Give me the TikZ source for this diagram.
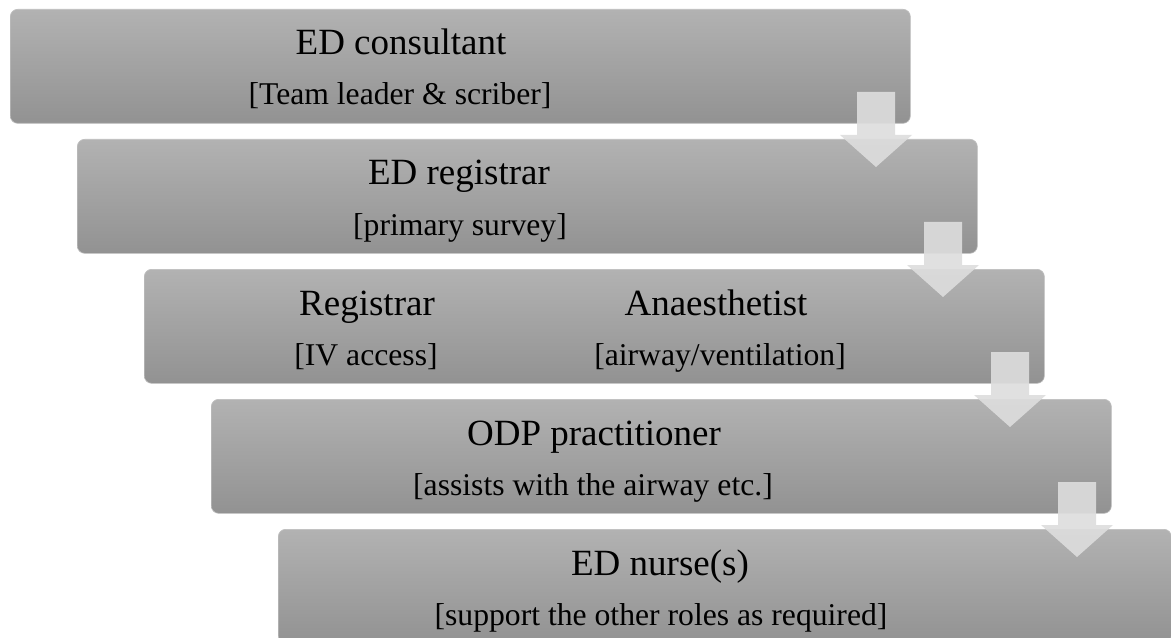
\documentclass[tikz,border=0pt]{standalone}
\usepackage{fontspec}
\setmainfont{Liberation Serif}
\definecolor{boxtop}{RGB}{178,178,178}
\definecolor{boxbot}{RGB}{146,146,146}
\definecolor{boxedge}{RGB}{190,190,190}
\definecolor{arrowgray}{RGB}{221,221,221}
\begin{document}
\begin{tikzpicture}[x=0.75pt,y=-0.75pt,
  stage/.style={anchor=north west, rounded corners=5.5pt, minimum width=675pt,
    minimum height=85.5pt, inner sep=0pt, top color=boxtop, bottom color=boxbot,
    draw=boxedge, line width=0.5pt},
  role/.style={anchor=base, font=\fontsize{27.75}{33}\selectfont, inner sep=0pt},
  duty/.style={anchor=base, font=\fontsize{23.75}{28}\selectfont, inner sep=0pt},
  flow/.style={fill=arrowgray, fill opacity=0.91}
]
\useasboundingbox (0,0) rectangle (1171,638);
\clip (0,0) rectangle (1171,638);

% staggered role boxes
\node[stage] (s1) at (10,9) {};
\node[stage] (s2) at (77,139) {};
\node[stage] (s3) at (144,269) {};
\node[stage] (s4) at (211,399) {};
\node[stage, minimum width=669.75pt] (s5) at (278,529) {};

% role titles and duties
\node[role] (t1) at (401,55) {ED consultant};
\node[duty] (d1) at (400,105) {[Team leader \& scriber]};
\node[role] (t2) at (459,185) {ED registrar};
\node[duty] (d2) at (460,235) {[primary survey]};
\node[role] (t3a) at (367,315) {Registrar};
\node[duty] (d3a) at (366,365) {[IV access]};
\node[role] (t3b) at (716,315) {Anaesthetist};
\node[duty] (d3b) at (720,365) {[airway/ventilation]};
\node[role] (t4) at (594,445) {ODP practitioner};
\node[duty] (d4) at (593,495) {[assists with the airway etc.]};
\node[role] (t5) at (660,575) {ED nurse(s)};
\node[duty] (d5) at (661,625) {[support the other roles as required]};

% down arrows linking consecutive boxes
\foreach \i in {0,1,2,3}{
  \begin{scope}[shift={(876+67*\i,92+130*\i)}]
    \coordinate (a\i) at (0,0);
    \fill[flow] (-19,0) -- (19,0) -- (19,43) -- (36,43) -- (0,75)
      -- (-36,43) -- (-19,43) -- cycle;
  \end{scope}
}
\end{tikzpicture}
\end{document}
